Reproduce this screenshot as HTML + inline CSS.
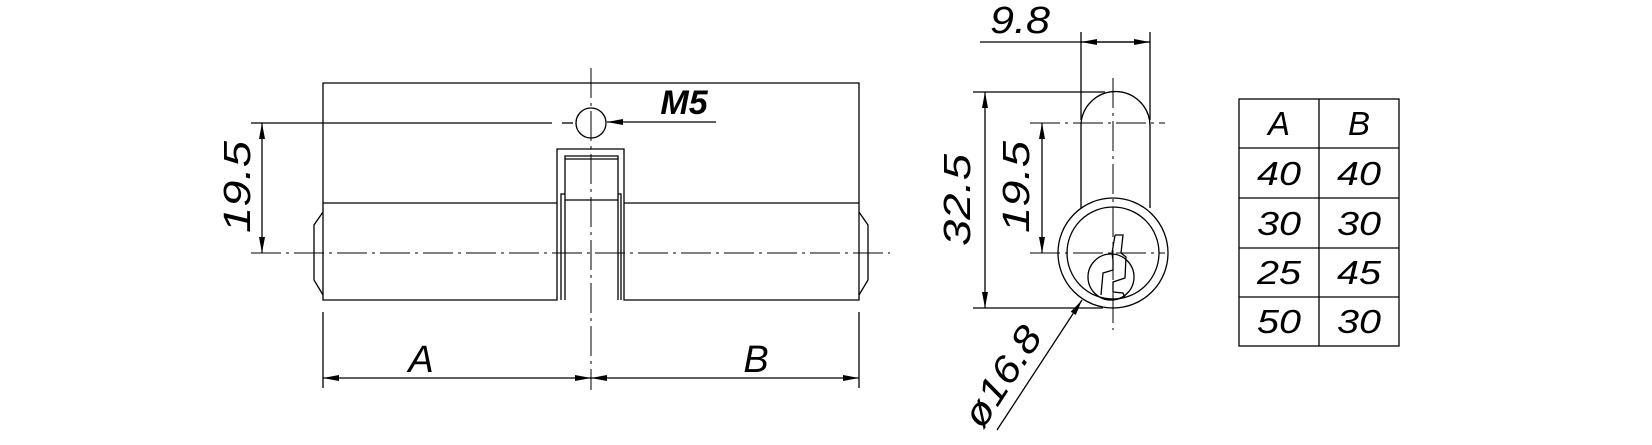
<!DOCTYPE html>
<html><head><meta charset="utf-8"><style>
html,body{margin:0;padding:0;background:#fff;width:1652px;height:445px;overflow:hidden}
svg text{font-family:"Liberation Sans",sans-serif;font-style:italic;fill:#000}
</style></head><body>
<svg width="1652" height="445" viewBox="0 0 1652 445" xmlns="http://www.w3.org/2000/svg">
<defs>
<marker id="ar" viewBox="0 0 16 6" refX="16" refY="3" markerWidth="16" markerHeight="6" orient="auto" markerUnits="userSpaceOnUse"><path d="M0,0 L16,3 L0,6 z" fill="#000"/></marker>
</defs>
<g stroke="#000" stroke-width="1.3" fill="none">
<path d="M323,83 H859 V300 H624 V149 H557 V300 H323 Z"/>
<line x1="323" y1="203" x2="557" y2="203"/>
<line x1="624" y1="203" x2="859" y2="203"/>
<path d="M323,212 L314,225 V280 L323,295"/>
<path d="M859,212 L868,225 V280 L859,295"/>
<path d="M565,300 V156 H618 V300"/>
<line x1="565" y1="159" x2="618" y2="159"/>
<line x1="565" y1="200" x2="618" y2="200"/>
<path d="M561,300 V194 H565 M618,194 H621 V300"/>
<circle cx="591" cy="123" r="15"/>
<line x1="251" y1="123" x2="552" y2="123"/>
<line x1="562" y1="123" x2="573" y2="123"/>
<line x1="262" y1="190" x2="262" y2="123" marker-end="url(#ar)"/>
<line x1="262" y1="190" x2="262" y2="253" marker-end="url(#ar)"/>
<line x1="716" y1="122" x2="607" y2="122" marker-end="url(#ar)"/>
<line x1="591" y1="68" x2="591" y2="390" stroke-dasharray="30,5,3,5" stroke-width="1"/>
<line x1="251" y1="253" x2="890" y2="253" stroke-dasharray="30,5,3,5" stroke-width="1"/>
<line x1="323" y1="312" x2="323" y2="388"/>
<line x1="859" y1="312" x2="859" y2="388"/>
<line x1="460" y1="378" x2="323" y2="378" marker-end="url(#ar)"/>
<line x1="460" y1="378" x2="591" y2="378" marker-end="url(#ar)"/>
<line x1="720" y1="378" x2="591" y2="378" marker-end="url(#ar)"/>
<line x1="720" y1="378" x2="859" y2="378" marker-end="url(#ar)"/>
<path d="M1081,208 V126 A34.5,34.5 0 0 1 1150,126 V208"/>
<circle cx="1113" cy="253" r="55"/>
<circle cx="1113" cy="253" r="46"/>
<circle cx="1111" cy="277" r="23"/>
<path d="M1115,235 H1123 L1121,253 L1126,257 L1125,278 L1113,282 V292 L1123,293 L1125,298"/>
<path d="M1115,235 L1112,253 L1113,260 V270 L1103,273 L1101,295"/>
<line x1="1113" y1="78" x2="1113" y2="330" stroke-dasharray="30,5,3,5" stroke-width="1"/>
<line x1="1030" y1="123" x2="1165" y2="123" stroke-dasharray="30,5,3,5" stroke-width="1"/>
<line x1="1030" y1="253" x2="1165" y2="253" stroke-dasharray="30,5,3,5" stroke-width="1"/>
<line x1="973" y1="92" x2="1105" y2="92"/>
<line x1="973" y1="308" x2="1103" y2="308"/>
<line x1="985" y1="200" x2="985" y2="92" marker-end="url(#ar)"/>
<line x1="985" y1="200" x2="985" y2="308" marker-end="url(#ar)"/>
<line x1="1042" y1="190" x2="1042" y2="123" marker-end="url(#ar)"/>
<line x1="1042" y1="190" x2="1042" y2="253" marker-end="url(#ar)"/>
<line x1="1081" y1="32" x2="1081" y2="120"/>
<line x1="1150" y1="32" x2="1150" y2="120"/>
<line x1="980" y1="42" x2="1150" y2="42"/>
<line x1="1115" y1="42" x2="1081" y2="42" marker-end="url(#ar)"/>
<line x1="1115" y1="42" x2="1150" y2="42" marker-end="url(#ar)"/>
<line x1="997" y1="430" x2="1082" y2="300" marker-end="url(#ar)"/>
<rect x="1239" y="99" width="160" height="247"/>
<line x1="1319" y1="99" x2="1319" y2="346"/>
<line x1="1239" y1="148" x2="1399" y2="148"/>
<line x1="1239" y1="198" x2="1399" y2="198"/>
<line x1="1239" y1="248" x2="1399" y2="248"/>
<line x1="1239" y1="297" x2="1399" y2="297"/>
</g>
<g font-size="38">
<text x="238" y="187" transform="rotate(-90 238 187)" text-anchor="middle" dominant-baseline="central" textLength="92" lengthAdjust="spacingAndGlyphs">19.5</text>
<text x="684" y="114" text-anchor="middle" font-weight="bold" font-size="34">M5</text>
<text x="421" y="372" text-anchor="middle">A</text>
<text x="756" y="372" text-anchor="middle">B</text>
<text x="1020" y="33" text-anchor="middle" textLength="60" lengthAdjust="spacingAndGlyphs">9.8</text>
<text x="958" y="200" transform="rotate(-90 958 200)" text-anchor="middle" dominant-baseline="central" textLength="92" lengthAdjust="spacingAndGlyphs">32.5</text>
<text x="1017" y="187" transform="rotate(-90 1017 187)" text-anchor="middle" dominant-baseline="central" textLength="92" lengthAdjust="spacingAndGlyphs">19.5</text>
<text x="1003" y="377" transform="rotate(-57 1003 377)" text-anchor="middle" dominant-baseline="central" textLength="112" lengthAdjust="spacingAndGlyphs">ø16.8</text>
</g>
<g font-size="33" text-anchor="middle">
<text x="1279" y="135">A</text><text x="1359" y="135">B</text>
<text x="1279" y="185" textLength="44" lengthAdjust="spacingAndGlyphs">40</text><text x="1359" y="185" textLength="44" lengthAdjust="spacingAndGlyphs">40</text>
<text x="1279" y="235" textLength="44" lengthAdjust="spacingAndGlyphs">30</text><text x="1359" y="235" textLength="44" lengthAdjust="spacingAndGlyphs">30</text>
<text x="1279" y="284" textLength="44" lengthAdjust="spacingAndGlyphs">25</text><text x="1359" y="284" textLength="44" lengthAdjust="spacingAndGlyphs">45</text>
<text x="1279" y="333" textLength="44" lengthAdjust="spacingAndGlyphs">50</text><text x="1359" y="333" textLength="44" lengthAdjust="spacingAndGlyphs">30</text>
</g>
</svg>
</body></html>
